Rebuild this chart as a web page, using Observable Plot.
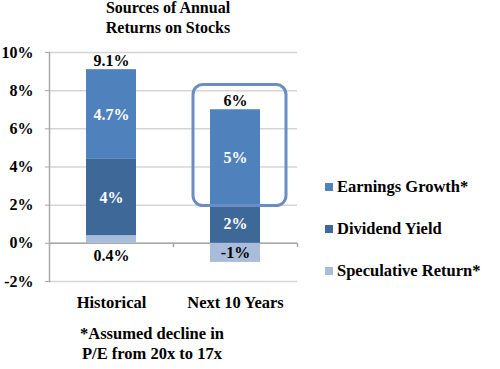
<!DOCTYPE html>
<html>
<head>
<meta charset="utf-8">
<script src="https://cdn.jsdelivr.net/npm/d3@7"></script>
<script src="https://cdn.jsdelivr.net/npm/@observablehq/plot@0.6"></script>
<style>
  html, body { margin: 0; padding: 0; background: #fff; }
  #wrap { position: relative; width: 500px; height: 369px; overflow: hidden;
          font-family: "Liberation Serif", "DejaVu Serif", serif; font-weight: bold; font-size: 16px; color: #000; }
  #chart { position: absolute; left: 0; top: 0; }
  #title { position: absolute; left: 68px; width: 200px; top: -2px; text-align: center; line-height: 20px; }
  #note { position: absolute; left: 50px; width: 204px; top: 324px; text-align: center; line-height: 20px; font-size: 16.5px; }
  #legend { position: absolute; left: 325px; top: 176px; font-size: 16.5px; }
  .item { display: flex; align-items: center; height: 22px; margin-bottom: 20px; white-space: nowrap; }
  .sw { width: 8px; height: 8px; margin-right: 4px; flex: none; }
</style>
</head>
<body>
<div id="wrap">
  <div id="chart"></div>
  <div id="title">Sources of Annual<br>Returns on Stocks</div>
  <div id="legend"></div>
  <div id="note">*Assumed decline in<br>P/E from 20x to 17x</div>
</div>
<script>
const categories = ["Historical", "Next 10 Years"];
const seriesNames = ["Earnings Growth*", "Dividend Yield", "Speculative Return*"];
const earnings = [4.7, 5];
const dividend = [4, 2];
const speculative = [0.4, -1];
const yTicks = [-2, 0, 2, 4, 6, 8, 10];
const seriesColors = ["#4f81bd", "#3e6897", "#a9bcda"];
const highlightCategory = ["Next 10 Years"];
const highlightLow = [1.95];
const highlightHigh = [8.3];

const FONT = "'Liberation Serif', 'DejaVu Serif', serif";
const stackOrder = ["Speculative Return*", "Dividend Yield", "Earnings Growth*"];
const fmt = v => `${Math.round(v * 10) / 10}%`;

const rows = categories.flatMap((c, i) => [
  {category: c, series: "Speculative Return*", value: speculative[i]},
  {category: c, series: "Dividend Yield", value: dividend[i]},
  {category: c, series: "Earnings Growth*", value: earnings[i]}
]);
const totals = categories.map((c, i) => {
  const vals = [earnings[i], dividend[i], speculative[i]];
  return {category: c, top: d3.sum(vals, v => Math.max(0, v)), total: d3.sum(vals)};
});
const specRows = rows.filter(d => d.series === "Speculative Return*");
const highlight = highlightCategory.map((c, i) => ({category: c, low: highlightLow[i], high: highlightHigh[i]}));

const txt = {fontSize: 16, fontWeight: "bold", fontFamily: FONT};

const chart = Plot.plot({
  width: 500,
  height: 369,
  marginLeft: 49,
  marginRight: 203,
  marginTop: 52,
  marginBottom: 88,
  style: {fontFamily: FONT, fontSize: "16px", fontWeight: "bold", color: "#000", background: "transparent"},
  x: {domain: categories, paddingInner: 0.6, paddingOuter: 0.3, label: null},
  y: {domain: [-2, 10], label: null},
  color: {domain: seriesNames, range: seriesColors},
  marks: [
    Plot.ruleY(yTicks, {stroke: "#d4d4d4", strokeWidth: 1.5}),
    Plot.ruleY([0], {stroke: "#a8a8a8", strokeWidth: 1.5}),
    Plot.ruleX(categories, {x: d => d, y1: 0, y2: -0.22, dx: 62, stroke: "#a8a8a8", strokeWidth: 1.5}),
    Plot.frame({anchor: "left", stroke: "#a8a8a8", strokeWidth: 1.5}),
    Plot.axisY({ticks: yTicks, tickFormat: d => `${d}%`, tickSize: 4, tickPadding: 12, stroke: "#a8a8a8", fill: "#000", ...txt}),
    Plot.axisX({tickSize: 0, tickPadding: 15, fill: "#000", ...txt, fontSize: 16.5}),
    Plot.barY(rows, Plot.stackY({x: "category", y: "value", z: "series", fill: "series", order: stackOrder})),
    Plot.text(rows, Plot.stackY({x: "category", y: "value", z: "series", order: stackOrder,
      text: d => d.series === "Speculative Return*" ? "" : fmt(d.value), fill: "white", ...txt})),
    Plot.text(specRows.filter(d => d.value < 0), {x: "category", y: d => d.value / 2, text: d => fmt(d.value), fill: "#000", ...txt}),
    Plot.text(specRows.filter(d => d.value >= 0), {x: "category", y: 0, dy: 13, text: d => fmt(d.value), fill: "#000", ...txt}),
    Plot.text(totals, {x: "category", y: "top", dy: -9, text: d => fmt(d.total), fill: "#000", ...txt}),
    Plot.barY(highlight, {x: "category", y1: "low", y2: "high", fill: "none", stroke: "#6a8ec3", strokeWidth: 3, rx: 10, insetLeft: -17, insetRight: -26})
  ]
});
document.getElementById("chart").append(chart);

const legend = document.getElementById("legend");
seriesNames.forEach((name, i) => {
  const item = document.createElement("div");
  item.className = "item";
  const sw = document.createElement("span");
  sw.className = "sw";
  sw.style.background = seriesColors[i];
  const label = document.createElement("span");
  label.textContent = name;
  item.append(sw, label);
  legend.append(item);
});
</script>
</body>
</html>
